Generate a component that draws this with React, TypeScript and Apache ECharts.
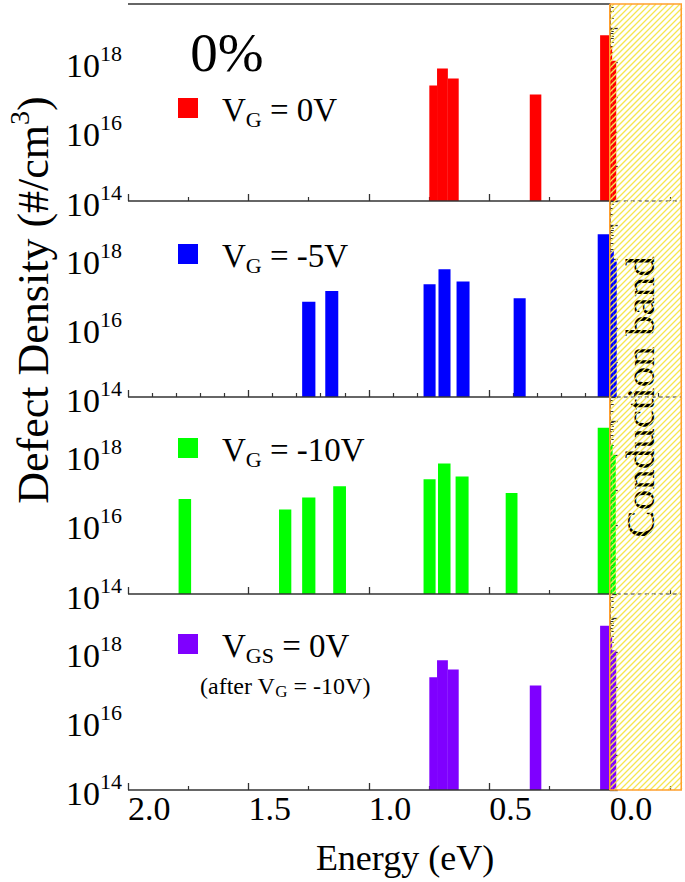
import React, { useEffect, useRef } from 'react';
import * as echarts from 'echarts';

// ---------- data ----------
const energyRange = [-0.3, 2.0];
const densityRange = [1e14, 5e19];
const conductionBand = [0.0, -0.3];

const xLabelValues = [0, 0.5, 1.0, 1.5, 2.0];
const xMajorTicks = [0, 0.5, 1.0, 1.5, 2.0];
const xMinorTicks = [-0.25, 0.25, 0.75, 1.25, 1.75];
const xMinorTicksFine = [-0.2, -0.1, 0.1, 0.2, 0.3, 0.4, 0.6, 0.7, 0.8, 0.9, 1.1, 1.2, 1.3, 1.4, 1.6, 1.7, 1.8, 1.9];
const yLabelValues = [1e14, 1e16, 1e18];
const yMajorTicks = [1e14, 1e15, 1e16, 1e17, 1e18, 1e19];
const yMinorTicks: number[] = [];
for (let n = 14; n <= 19; n++) for (let k = 2; k <= 9; k++) if (k * Math.pow(10, n) <= 5e19) yMinorTicks.push(k * Math.pow(10, n));

// [energy start, energy end, density]
const barsVG0 = [
  [0.749, 0.717, 2.2e17],
  [0.717, 0.672, 6.8e17],
  [0.672, 0.627, 3.5e17],
  [0.332, 0.284, 1.2e17],
  [0.040, 0.0, 6.2e18],
  [0.0, -0.010, 2.9e18],
  [-0.010, -0.027, 1.15e18],
];
const barsVGm5 = [
  [1.277, 1.222, 5.9e16],
  [1.181, 1.127, 1.2e17],
  [0.773, 0.723, 1.9e17],
  [0.711, 0.661, 5.2e17],
  [0.636, 0.582, 2.3e17],
  [0.399, 0.349, 7.4e16],
  [0.050, 0.0, 5.4e18],
  [0.0, -0.017, 1.8e18],
  [-0.017, -0.029, 8.7e17],
];
const barsVGm10 = [
  [1.790, 1.738, 5.6e16],
  [1.373, 1.322, 2.8e16],
  [1.277, 1.222, 6.2e16],
  [1.148, 1.095, 1.3e17],
  [0.773, 0.723, 2.1e17],
  [0.713, 0.661, 6.0e17],
  [0.640, 0.586, 2.5e17],
  [0.432, 0.383, 8.3e16],
  [0.050, 0.0, 6.4e18],
  [0.0, -0.012, 2.2e18],
  [-0.012, -0.025, 1.05e18],
];
const barsVGS0 = [
  [0.749, 0.717, 1.9e17],
  [0.717, 0.672, 5.9e17],
  [0.672, 0.627, 3.2e17],
  [0.332, 0.284, 1.1e17],
  [0.040, 0.0, 6.0e18],
  [0.0, -0.010, 3.0e18],
  [-0.010, -0.027, 1.15e18],
];

const panelNames = ['V_G = 0V', 'V_G = -5V', 'V_G = -10V', 'V_GS = 0V'];
const panelColors = ['#ff0000', '#0000ff', '#00ff00', '#7f00ff'];
const panelBars = [barsVG0, barsVGm5, barsVGm10, barsVGS0];
const legendRich = [
  '{v|V}{s|G}{v| = 0V}',
  '{v|V}{s|G}{v| = -5V}',
  '{v|V}{s|G}{v| = -10V}',
  '{v|V}{s|GS}{v| = 0V}',
];

// ---------- layout ----------
const FONT = '"Liberation Serif", "Times New Roman", serif';
const gridTops = [4, 201, 397, 594];
const gridBottom = 790;
const gridLeft = 128;
const gridRight = 3;
const legendY = [108, 254, 448, 644];
const AXIS = '#333';

export default function App() {
  const ref = useRef<HTMLDivElement>(null);
  useEffect(() => {
    if (!ref.current) return;
    const chart = echarts.init(ref.current, null, { renderer: 'svg' });

    const grids = gridTops.map((t, i) => ({
      left: gridLeft,
      right: gridRight,
      top: t,
      height: (i < 3 ? gridTops[i + 1] : gridBottom) - t,
      containLabel: false,
    }));

    const xAxes: any[] = [];
    const yAxes: any[] = [];
    gridTops.forEach((_, i) => {
      xAxes.push({
        type: 'value', gridIndex: i, position: 'bottom', inverse: true,
        min: energyRange[0], max: energyRange[1],
        axisLine: { show: false },
        splitLine: { show: false },
        axisTick: { show: true, inside: true, length: 7, customValues: xMajorTicks, lineStyle: { color: AXIS, width: 1.3 } },
        axisLabel: {
          show: i === 3, customValues: xLabelValues, align: 'left', margin: 1,
          fontSize: 34, fontFamily: FONT, color: '#000',
          formatter: (v: number) => Math.abs(v).toFixed(1),
        },
        name: i === 3 ? 'Energy (eV)' : '',
        nameLocation: 'middle', nameGap: 50,
        nameTextStyle: { fontSize: 36, fontFamily: FONT, color: '#000' },
      });
      xAxes.push({
        type: 'value', gridIndex: i, position: 'bottom', inverse: true,
        min: energyRange[0], max: energyRange[1],
        axisLine: { show: false }, splitLine: { show: false }, axisLabel: { show: false },
        axisTick: { show: true, inside: true, length: 4, customValues: i === 1 ? xMinorTicksFine : xMinorTicks, lineStyle: { color: AXIS, width: 1.2 } },
      });
      yAxes.push({
        type: 'log', logBase: 10, gridIndex: i, position: 'left',
        min: densityRange[0], max: densityRange[1],
        axisLine: { show: true, lineStyle: { color: AXIS, width: 1.5 } },
        splitLine: { show: false },
        axisTick: { show: true, inside: true, length: 8, customValues: yMajorTicks, lineStyle: { color: AXIS, width: 1.3 } },
        axisLabel: {
          show: true, customValues: yLabelValues, margin: 6, color: '#000',
          formatter: (v: number) => `{a|10}{b|${Math.round(Math.log10(v))}}`,
          rich: {
            a: { fontSize: 34, fontFamily: FONT, color: '#000', lineHeight: 40, verticalAlign: 'bottom' },
            b: { fontSize: 22, fontFamily: FONT, color: '#000', lineHeight: 22, verticalAlign: 'top' },
          },
        },
      });
      yAxes.push({
        type: 'log', logBase: 10, gridIndex: i, position: 'left',
        min: densityRange[0], max: densityRange[1],
        axisLine: { show: false }, splitLine: { show: false }, axisLabel: { show: false },
        axisTick: { show: true, inside: true, length: 4, customValues: yMinorTicks, lineStyle: { color: AXIS, width: 1 } },
      });
    });

    const series: any[] = [];
    panelBars.forEach((bars, i) => {
      series.push({
        type: 'custom', name: panelNames[i], xAxisIndex: i * 2, yAxisIndex: i * 2, z: 3,
        data: bars, encode: { x: [0, 1], y: 2 }, silent: true,
        renderItem: (params: any, api: any) => {
          const pTop = api.coord([api.value(0), api.value(2)]);
          const pEnd = api.coord([api.value(1), densityRange[0]]);
          const x = Math.min(pTop[0], pEnd[0]);
          const w = Math.abs(pEnd[0] - pTop[0]);
          return { type: 'rect', shape: { x, y: pTop[1], width: w, height: pEnd[1] - pTop[1] }, style: { fill: panelColors[i] } };
        },
      });
      series.push({
        type: 'custom', name: 'band' + i, xAxisIndex: i * 2, yAxisIndex: i * 2, z: 5, silent: true,
        data: [[conductionBand[0], conductionBand[1], densityRange[0], densityRange[1]]],
        encode: { x: [0, 1], y: [2, 3] },
        renderItem: (params: any, api: any) => {
          const cs = params.coordSys;
          const top = cs.y, bot = cs.y + cs.height;
          const xa = api.coord([api.value(0), api.value(2)])[0];
          const xb = api.coord([api.value(1), api.value(2)])[0];
          const x0 = Math.min(xa, xb), x1 = Math.max(xa, xb);
          const left = cs.x;
          const ch: any[] = [];
          const step = 6;
          const cStart = Math.ceil((x0 + top) / step) * step;
          for (let c = cStart; c <= x1 + bot; c += step) {
            const xs = Math.max(x0, c - bot), xe = Math.min(x1, c - top);
            if (xe <= xs) continue;
            ch.push({ type: 'line', shape: { x1: xs, y1: c - xs, x2: xe, y2: c - xe }, style: { stroke: '#f5e650', lineWidth: 1.3 } });
          }
          ch.push({ type: 'line', shape: { x1: left, y1: bot, x2: x0, y2: bot }, style: { stroke: AXIS, lineWidth: 1.5 } });
          if (i === 0) ch.push({ type: 'line', shape: { x1: left, y1: top, x2: x0, y2: top }, style: { stroke: AXIS, lineWidth: 1.5 } });
          if (i < 3) ch.push({ type: 'line', shape: { x1: x0, y1: bot, x2: x1, y2: bot }, style: { stroke: AXIS, lineWidth: 1, lineDash: [4, 3] } });
          ch.push({ type: 'line', shape: { x1: x0, y1: top, x2: x0, y2: bot }, style: { stroke: '#ff9f2e', lineWidth: 1.5 } });
          ch.push({ type: 'line', shape: { x1: x1 - 0.75, y1: top, x2: x1 - 0.75, y2: bot }, style: { stroke: '#ff9f2e', lineWidth: 1.5 } });
          if (i === 0) ch.push({ type: 'line', shape: { x1: x0, y1: top, x2: x1, y2: top }, style: { stroke: '#ff9f2e', lineWidth: 1.5 } });
          if (i === 3) ch.push({ type: 'line', shape: { x1: x0, y1: bot, x2: x1, y2: bot }, style: { stroke: '#ff9f2e', lineWidth: 1.5 } });
          return { type: 'group', children: ch };
        },
      });
    });

    const legendGraphics: any[] = [];
    panelColors.forEach((c, i) => {
      legendGraphics.push({ type: 'rect', left: 178, top: legendY[i] - 10, shape: { width: 20, height: 20 }, style: { fill: c } });
      legendGraphics.push({
        type: 'text', x: 222, y: legendY[i] + 2,
        style: {
          text: legendRich[i], textVerticalAlign: 'middle',
          rich: {
            v: { fontSize: 33, fontFamily: FONT, fill: '#000', lineHeight: 40, verticalAlign: 'middle' },
            s: { fontSize: 22, fontFamily: FONT, fill: '#000', lineHeight: 22, verticalAlign: 'bottom' },
          },
        },
      });
    });

    chart.setOption({
      animation: false,
      backgroundColor: '#fff',
      grid: grids,
      xAxis: xAxes,
      yAxis: yAxes,
      series,
      graphic: [
        ...legendGraphics,
        {
          type: 'text', x: 200, y: 686,
          style: {
            text: '{t|(after V}{u|G}{t| = -10V)}', textVerticalAlign: 'middle',
            rich: {
              t: { fontSize: 24, fontFamily: FONT, fill: '#000', lineHeight: 28, verticalAlign: 'middle' },
              u: { fontSize: 17, fontFamily: FONT, fill: '#000', lineHeight: 17, verticalAlign: 'bottom' },
            },
          },
        },
        {
          type: 'text', x: 227, y: 52,
          style: { text: '0%', fontSize: 55, fontFamily: FONT, fill: '#000', textAlign: 'center', textVerticalAlign: 'middle' },
        },
        {
          type: 'text', x: 640, y: 397, rotation: Math.PI / 2,
          style: { text: 'Conduction band', fontSize: 41, fontFamily: FONT, fill: '#000', textAlign: 'center', textVerticalAlign: 'middle' },
        },
        {
          type: 'text', x: 30, y: 300, rotation: Math.PI / 2,
          style: {
            text: '{a|Defect Density (#/cm}{b|3}{a|)}', textAlign: 'center', textVerticalAlign: 'middle',
            rich: {
              a: { fontSize: 44, fontFamily: FONT, fill: '#000', lineHeight: 50, verticalAlign: 'bottom' },
              b: { fontSize: 28, fontFamily: FONT, fill: '#000', lineHeight: 28, verticalAlign: 'top' },
            },
          },
        },
      ],
    });
    return () => chart.dispose();
  }, []);
  return <div ref={ref} style={{ position: 'absolute', left: 0, top: 0, width: 685, height: 882 }} />;
}
